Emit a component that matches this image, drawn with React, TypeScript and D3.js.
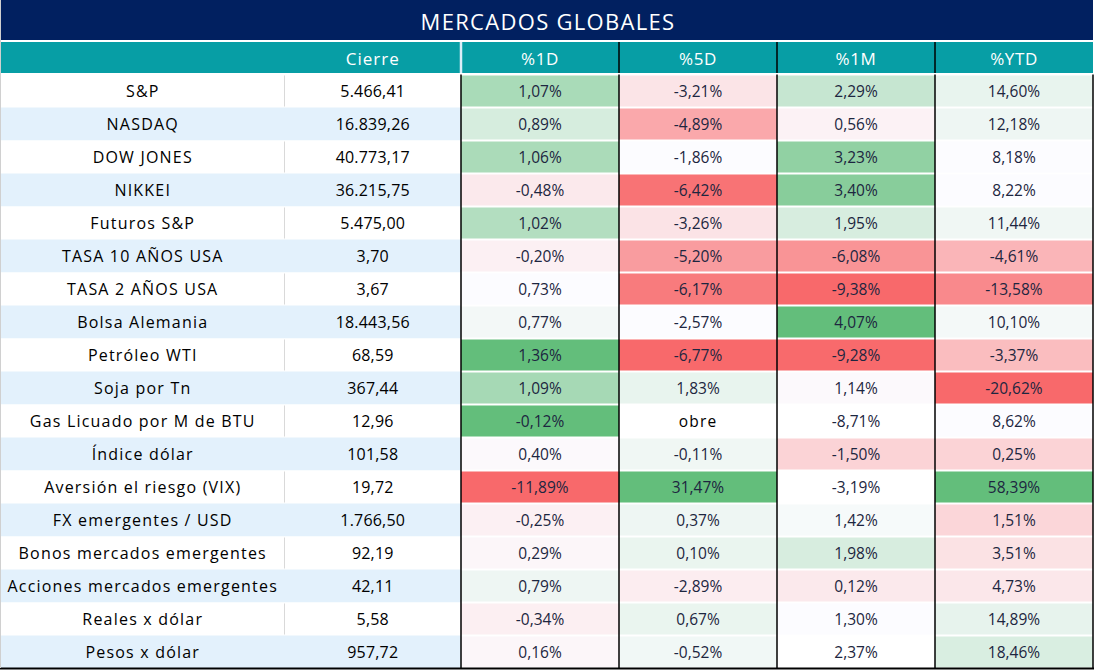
import React from "react";
import * as d3 from "d3";

const titulo = "MERCADOS GLOBALES";
const columnas = ["%1D", "%5D", "%1M", "%YTD"];
const activos = [
  "S&P", "NASDAQ", "DOW JONES", "NIKKEI", "Futuros S&P", "TASA 10 AÑOS USA", "TASA 2 AÑOS USA",
  "Bolsa Alemania", "Petróleo WTI", "Soja por Tn", "Gas Licuado por M de BTU", "Índice dólar",
  "Aversión el riesgo (VIX)", "FX emergentes / USD", "Bonos mercados emergentes",
  "Acciones mercados emergentes", "Reales x dólar", "Pesos x dólar",
];
const cierre = [5466.41, 16839.26, 40773.17, 36215.75, 5475.0, 3.7, 3.67, 18443.56, 68.59, 367.44, 12.96, 101.58, 19.72, 1766.5, 92.19, 42.11, 5.58, 957.72];
const var1D: (number | string)[] = [1.07, 0.89, 1.06, -0.48, 1.02, -0.2, 0.73, 0.77, 1.36, 1.09, -0.12, 0.4, -11.89, -0.25, 0.29, 0.79, -0.34, 0.16];
const var5D: (number | string)[] = [-3.21, -4.89, -1.86, -6.42, -3.26, -5.2, -6.17, -2.57, -6.77, 1.83, "obre", -0.11, 31.47, 0.37, 0.1, -2.89, 0.67, -0.52];
const var1M: (number | string)[] = [2.29, 0.56, 3.23, 3.4, 1.95, -6.08, -9.38, 4.07, -9.28, 1.14, -8.71, -1.5, -3.19, 1.42, 1.98, 0.12, 1.3, 2.37];
const varYTD: (number | string)[] = [14.6, 12.18, 8.18, 8.22, 11.44, -4.61, -13.58, 10.1, -3.37, -20.62, 8.62, 0.25, 58.39, 1.51, 3.51, 4.73, 14.89, 18.46];

// Intensidad del formato condicional (-1 rojo, 0 blanco, 1 verde; null = sin relleno)
const tono1D: (number | null)[] = [0.54, 0.25, 0.53, -0.13, 0.48, -0.08, 0, 0.06, 1, 0.56, 1, -0.02, -1, -0.08, -0.04, 0.09, -0.09, -0.04];
const tono5D: (number | null)[] = [-0.16, -0.57, 0, -0.93, -0.17, -0.65, -0.88, 0, -1, 0.13, null, 0.08, 1, 0.09, 0.12, -0.1, 0.12, 0.07];
const tono1M: (number | null)[] = [0.35, -0.07, 0.7, 0.76, 0.24, -0.71, -1, 1, -0.99, -0.02, null, -0.28, null, 0.04, 0.24, -0.13, 0, null];
const tonoYTD: (number | null)[] = [0.13, 0.09, 0, 0, 0.08, -0.48, -0.78, 0.05, -0.43, -1, 0, -0.28, 1, -0.26, -0.18, -0.14, 0.14, 0.23];

const valores = [var1D, var5D, var1M, varYTD];
const tonos = [tono1D, tono5D, tono1M, tonoYTD];

const W = 1094;
const H = 670;

const es = d3.formatLocale({ decimal: ",", thousands: ".", grouping: [3], currency: ["", ""], minus: "-" });
const fmtCierre = es.format(",.2f");
const fmtPct = es.format(".2f");

const heat = d3.scaleLinear<string>().domain([-1, 0, 1]).range(["#F8696B", "#FCFCFF", "#63BE7B"]).interpolate(d3.interpolateRgb);

const FONT = "'Open Sans', sans-serif";

export default function App() {
  const y = d3.scaleBand<string>().domain(activos).range([74.5, 668.5]).paddingInner(0).paddingOuter(0);
  const xCol = d3.scaleBand<string>().domain(columnas).range([461, 1093]);
  const nameX0 = 1;
  const nameX1 = 284.5;
  const cierreX1 = 461;
  const h = y.bandwidth();

  return (
    <div style={{ position: "absolute", left: 0, top: 0 }}>
      <svg width={W} height={H} style={{ display: "block", background: "#fff" }}>
        {/* Title */}
        <rect x={1} y={0} width={W - 2} height={40} fill="#012060" />
        <text x={W / 2 + 1} y={20.5} textAnchor="middle" dominantBaseline="central" fill="#fff" fontFamily={FONT} fontSize={22} letterSpacing={1.3}>
          {titulo}
        </text>
        {/* Header */}
        <rect x={1} y={42} width={W - 2} height={31} fill="#079ea5" />
        <text x={(nameX1 + cierreX1) / 2} y={58} textAnchor="middle" dominantBaseline="central" fill="#fff" fontFamily={FONT} fontSize={17} letterSpacing={1}>
          Cierre
        </text>
        <line x1={cierreX1} x2={cierreX1} y1={42} y2={73} stroke="#dbeef8" strokeWidth={2.5} />
        {columnas.map((c, j) => (
          <g key={c}>
            <text x={(xCol(c) as number) + xCol.bandwidth() / 2} y={58} textAnchor="middle" dominantBaseline="central" fill="#fff" fontFamily={FONT} fontSize={17} letterSpacing={0.6}>
              {c}
            </text>
            {j > 0 && <line x1={xCol(c) as number} x2={xCol(c) as number} y1={42} y2={73} stroke="#000" strokeWidth={1.5} />}
          </g>
        ))}
        {/* Rows */}
        {activos.map((a, i) => {
          const top = y(a) as number;
          const cy = top + h / 2;
          const azul = i % 2 === 1;
          return (
            <g key={a}>
              <rect x={nameX0} y={top} width={cierreX1 - nameX0} height={h} fill={azul ? "#e3f1fc" : "#ffffff"} />
              {!azul && <line x1={nameX1} x2={nameX1} y1={top + 1} y2={top + h - 1} stroke="#d9d9d9" strokeWidth={1} />}
              <text x={(nameX0 + nameX1) / 2} y={cy} textAnchor="middle" dominantBaseline="central" fill="#000" fontFamily={FONT} fontSize={16} letterSpacing={1.2}>
                {a}
              </text>
              <text x={(nameX1 + cierreX1) / 2} y={cy} textAnchor="middle" dominantBaseline="central" fill="#000" fontFamily={FONT} fontSize={16} fontWeight={500} letterSpacing={0.2}>
                {fmtCierre(cierre[i])}
              </text>
              {columnas.map((c, j) => {
                const v = valores[j][i];
                const t = tonos[j][i];
                const x0 = xCol(c) as number;
                return (
                  <g key={c}>
                    <rect x={x0} y={top + 1} width={xCol.bandwidth()} height={h - 2} fill={t === null ? "#ffffff" : heat(t)} />
                    <text x={x0 + xCol.bandwidth() / 2} y={cy} textAnchor="middle" dominantBaseline="central" fill={typeof v === "string" ? "#000" : "#1d2640"} fontFamily={FONT} fontSize={15.5} letterSpacing={typeof v === "string" ? 1.2 : 0}>
                      {typeof v === "string" ? v : fmtPct(v) + "%"}
                    </text>
                  </g>
                );
              })}
            </g>
          );
        })}
        {/* Black grid lines in data area */}
        {[...columnas.map((c) => xCol(c) as number), 1093].map((x, k) => (
          <line key={k} x1={x} x2={x} y1={74.5} y2={668.5} stroke="#000" strokeWidth={1.5} />
        ))}
        <line x1={0} x2={W} y1={668.5} y2={668.5} stroke="#000" strokeWidth={2} />
        <line x1={0.5} x2={0.5} y1={0} y2={668} stroke="#d0d0d0" strokeWidth={1} />
      </svg>
    </div>
  );
}
